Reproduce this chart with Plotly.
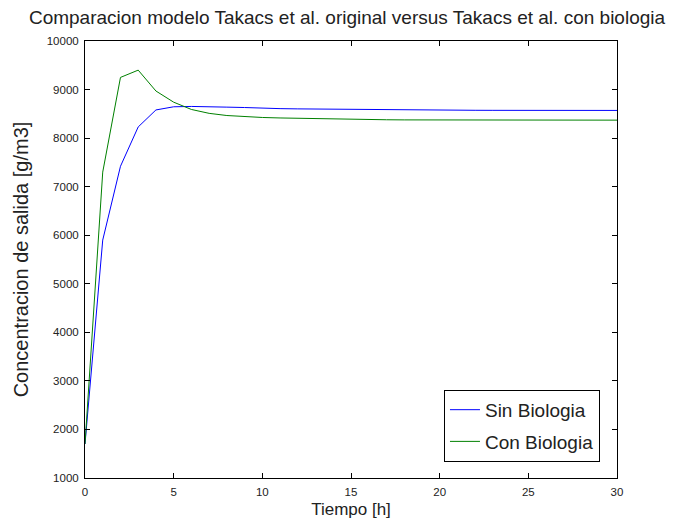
import plotly.graph_objects as go

tiempo = list(range(0, 31))
sin_biologia = [1700, 5900, 7420, 8230, 8580, 8645, 8652, 8650, 8638, 8630,
                8615, 8607, 8602, 8598, 8594, 8588, 8583, 8580, 8578, 8576,
                8575, 8574, 8573, 8572, 8572, 8571, 8571, 8570, 8570, 8570, 8570]
con_biologia = [1700, 7300, 9250, 9400, 8970, 8740, 8590, 8510, 8465, 8440,
                8425, 8415, 8407, 8401, 8396, 8392, 8388, 8378, 8375, 8374,
                8373, 8372, 8372, 8371, 8371, 8370, 8370, 8370, 8370, 8370, 8370]

x_ticks = [0, 5, 10, 15, 20, 25, 30]
y_ticks = [1000, 2000, 3000, 4000, 5000, 6000, 7000, 8000, 9000, 10000]
y_tick_text = [str(v) for v in y_ticks]

font = "Liberation Sans, Arial, sans-serif"

fig = go.Figure()
fig.add_trace(go.Scatter(x=tiempo, y=sin_biologia, mode="lines", name="Sin Biologia",
                         legendgroup="a", line=dict(color="#0000ff", width=1)))
fig.add_trace(go.Scatter(x=tiempo, y=con_biologia, mode="lines", name="Con Biologia",
                         legendgroup="b", line=dict(color="#008000", width=1)))

axis_common = dict(showgrid=False, zeroline=False, showline=True, linecolor="black",
                   linewidth=1, mirror="ticks", ticks="inside", ticklen=5,
                   tickcolor="black", ticklabelstandoff=3,
                   tickfont=dict(family=font, size=11.5, color="#222"))

fig.update_layout(
    width=678, height=527,
    margin=dict(l=77, r=69, t=33, b=57),
    paper_bgcolor="white", plot_bgcolor="white",
    font=dict(family=font, color="#222"),
    title=dict(text="Comparacion modelo Takacs et al. original versus Takacs et al. con biologia",
               x=0.5, xanchor="center", y=0.983, yanchor="middle",
               font=dict(family=font, size=19, color="#222")),
    xaxis=dict(range=[0, 30], tickvals=x_ticks,
               title=dict(text="Tiempo [h]", font=dict(family=font, size=17), standoff=6),
               **axis_common),
    yaxis=dict(range=[1000, 10000], tickvals=y_ticks, ticktext=y_tick_text,
               title=dict(text="Concentracion de salida [g/m3]", font=dict(family=font, size=20), standoff=12),
               **axis_common),
    legend=dict(x=0.968, y=0.037, xanchor="right", yanchor="bottom",
                bgcolor="white", bordercolor="black", borderwidth=1,
                traceorder="grouped", tracegroupgap=4,
                font=dict(family=font, size=19, color="#222")),
    showlegend=True,
)

fig.write_html("out.html")
